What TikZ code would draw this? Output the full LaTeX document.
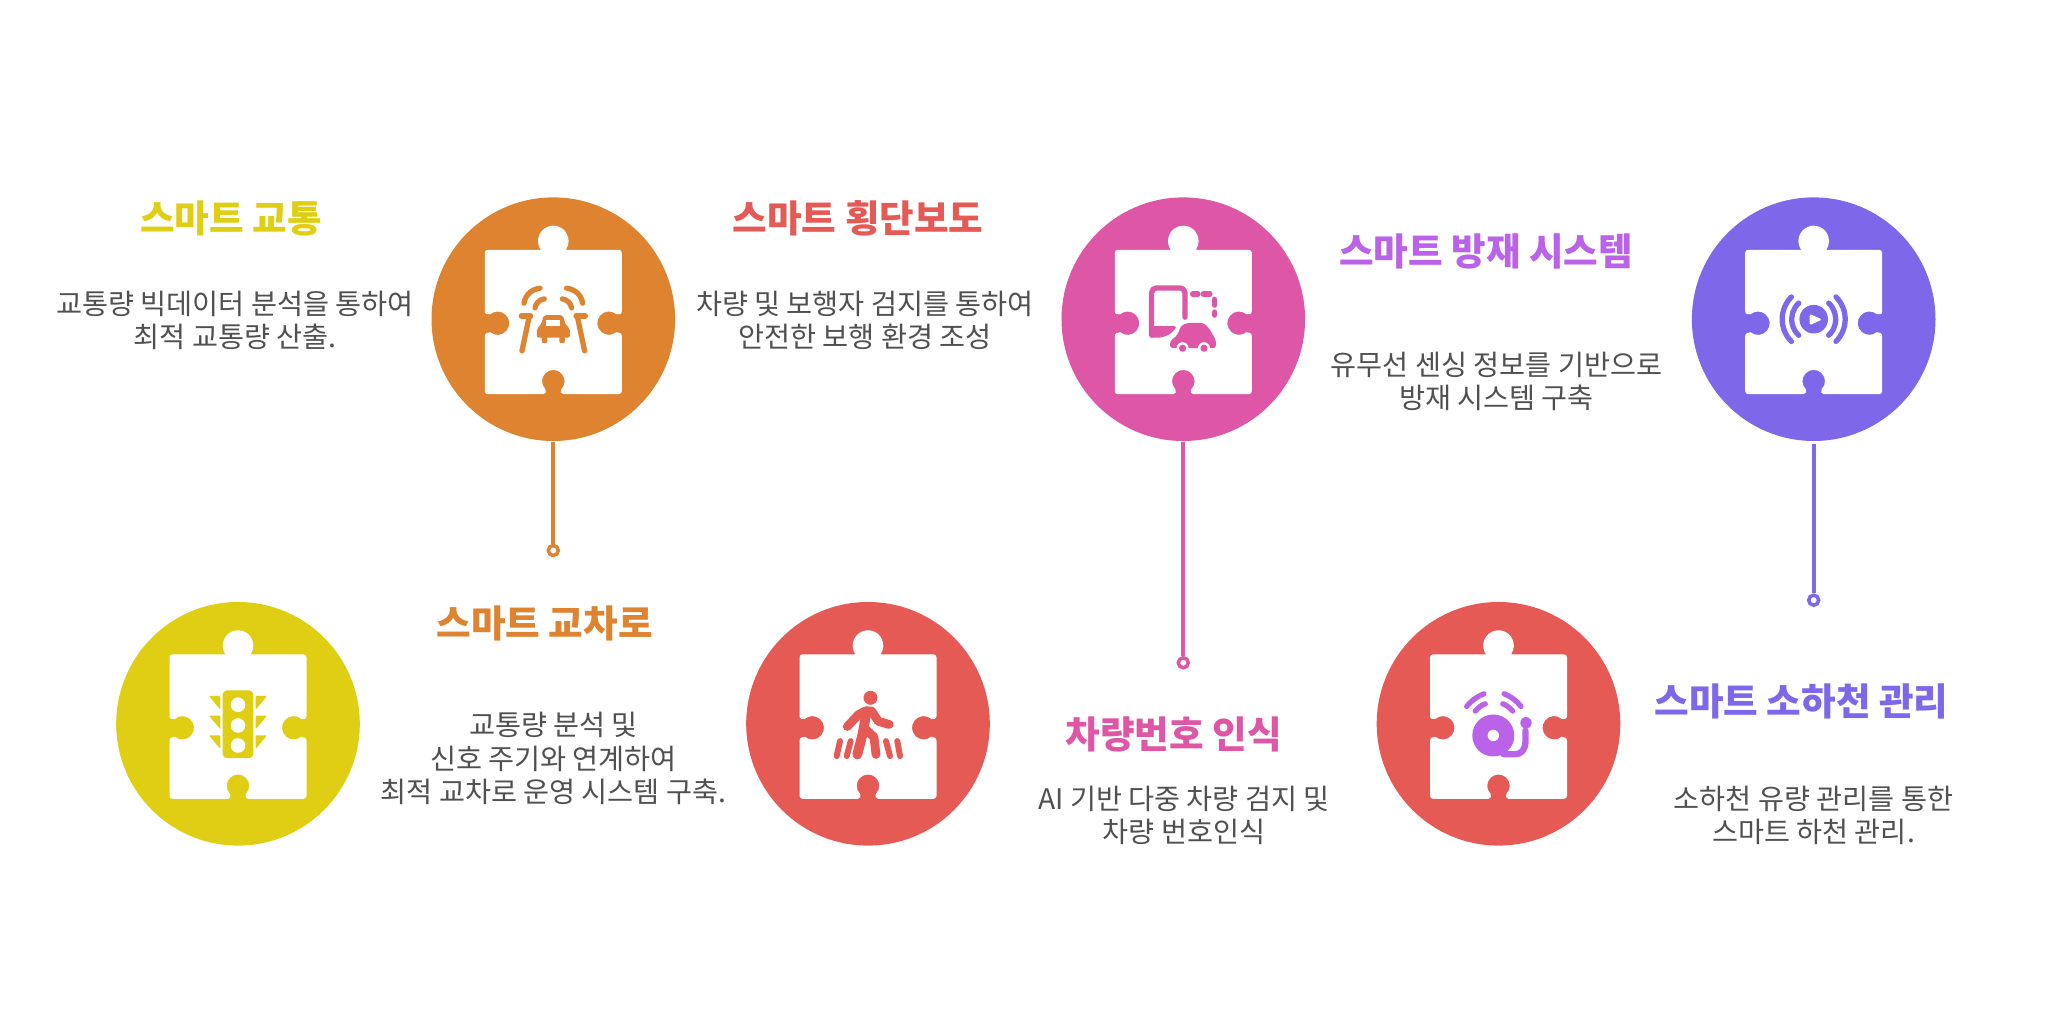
\documentclass[tikz,border=0pt]{standalone}
\usepackage{fontspec}
\setmainfont{Noto Sans CJK KR}
\usetikzlibrary{positioning}
\definecolor{corange}{HTML}{DE8431}
\definecolor{cpink}{HTML}{DE57A6}
\definecolor{cviolet}{HTML}{7F67EA}
\definecolor{cyellow}{HTML}{E0CE15}
\definecolor{cred}{HTML}{E55A55}
\definecolor{cpurple}{HTML}{BA62E8}
\definecolor{ctext}{HTML}{505050}
\tikzset{
    mycirc/.style = {circle, minimum size=2.436cm, inner sep=0pt},
    mycirco/.style = {mycirc, fill=corange},
    mycircp/.style = {mycirc, fill=cpink},
    mycircv/.style = {mycirc, fill=cviolet},
    mycircy/.style = {mycirc, fill=cyellow},
    mycircr/.style = {mycirc, fill=cred},
    mydot/.style = {circle, minimum size=0.1cm, inner sep=0pt, line width=1pt, fill=white},
    edgew/.style = {-, line width=1.05pt},
    mytitle/.style = {font=\fontsize{10.7pt}{13pt}\selectfont\bfseries, inner sep=0pt},
    mybody/.style = {font=\fontsize{8.05pt}{9.45pt}\selectfont, text=ctext, align=center, inner sep=0pt},
    iconl/.style = {line width=1.5pt, line cap=round, line join=round},
    % white piece, centred on its circle
    puzzle/.pic = {
        \fill[white] (-0.655,0.694) -- (-0.125,0.694) arc[start angle=215,end angle=-35,radius=0.153]
            -- (0.655,0.694) arc[start angle=90,end angle=0,radius=0.03]
            -- (0.685,0.08) .. controls (0.685,0.045) and (0.655,0.045) .. (0.632,0.05)
            arc[start angle=50,end angle=310,radius=0.117]
            .. controls (0.655,-0.135) and (0.685,-0.135) .. (0.685,-0.17)
            -- (0.685,-0.72) arc[start angle=0,end angle=-90,radius=0.03]
            -- (0.10,-0.75) .. controls (0.075,-0.75) and (0.065,-0.72) .. (0.08,-0.70)
            arc[start angle=-45,end angle=225,radius=0.113]
            .. controls (-0.065,-0.72) and (-0.075,-0.75) .. (-0.10,-0.75)
            -- (-0.655,-0.75) arc[start angle=270,end angle=180,radius=0.03]
            -- (-0.685,-0.17) .. controls (-0.685,-0.135) and (-0.655,-0.135) .. (-0.632,-0.13)
            arc[start angle=230,end angle=490,radius=0.117]
            .. controls (-0.655,0.045) and (-0.685,0.045) .. (-0.685,0.08)
            -- (-0.685,0.664) arc[start angle=180,end angle=90,radius=0.03] -- cycle;
    },
    roadicon/.pic = {
        \draw[iconl] (-0.293,0.16) .. controls (-0.28,0.25) and (-0.21,0.30) .. (-0.133,0.31);
        \draw[iconl] (-0.183,0.113) .. controls (-0.175,0.16) and (-0.14,0.195) .. (-0.09,0.203);
        \draw[iconl] (0.293,0.16) .. controls (0.28,0.25) and (0.21,0.30) .. (0.133,0.31);
        \draw[iconl] (0.183,0.113) .. controls (0.175,0.16) and (0.14,0.195) .. (0.09,0.203);
        \draw[iconl] (-0.32,0.033) -- (-0.227,0.033);
        \draw[iconl] (-0.24,0.03) -- (-0.313,-0.317);
        \draw[iconl] (0.32,0.033) -- (0.227,0.033);
        \draw[iconl] (0.24,0.03) -- (0.313,-0.317);
        \fill[rounded corners=0.2mm] (-0.165,-0.185) -- (-0.165,-0.09) -- (-0.125,-0.06) -- (-0.095,0.04) -- (0.095,0.04)
            -- (0.125,-0.06) -- (0.165,-0.09) -- (0.165,-0.185) -- cycle;
        \fill[rounded corners=0.2mm] (-0.115,-0.17) rectangle (-0.06,-0.24);
        \fill[rounded corners=0.2mm] (0.06,-0.17) rectangle (0.115,-0.24);
        \fill[white] (-0.07,-0.013) rectangle (0.07,-0.07);
    },
    phoneicon/.pic = {
        \draw[iconl, rounded corners=0.5mm] (0.017,0.02) -- (0.017,0.313) -- (-0.317,0.313) -- (-0.317,-0.16);
        \fill[rounded corners=0.3mm] (-0.335,-0.07) -- (-0.06,-0.07) -- (-0.13,-0.15) -- (-0.22,-0.185) -- (-0.335,-0.185) -- cycle;
        \draw[iconl] (0.093,0.253) -- (0.147,0.253);
        \draw[iconl] (0.2,0.253) -- (0.267,0.253);
        \draw[iconl] (0.313,0.2) -- (0.313,0.14);
        \draw[iconl] (0.313,0.073) -- (0.313,0.04);
        \fill[rounded corners=0.3mm] (-0.133,-0.29) -- (-0.133,-0.22) -- (-0.06,-0.16) -- (-0.02,-0.06) -- (0.05,-0.037)
            -- (0.2,-0.037) -- (0.25,-0.08) -- (0.327,-0.21) -- (0.327,-0.29) -- cycle;
        \foreach \wx in {-0.007,0.207} {
            \fill[white] (\wx,-0.29) circle (0.06);
            \fill (\wx,-0.29) circle (0.036);
        }
    },
    playicon/.pic = {
        \fill (0,0) circle (0.143);
        \fill[white, rounded corners=0.2mm] (-0.04,0.053) -- (-0.04,-0.06) -- (0.083,-0.003) -- cycle;
        \draw[iconl] (133:0.22) arc[start angle=133,end angle=227,radius=0.22];
        \draw[iconl] (135:0.315) arc[start angle=135,end angle=225,radius=0.315];
        \draw[iconl] (47:0.22) arc[start angle=47,end angle=-47,radius=0.22];
        \draw[iconl] (45:0.315) arc[start angle=45,end angle=-45,radius=0.315];
    },
    lighticon/.pic = {
        \fill[rounded corners=0.4mm] (-0.153,0.333) rectangle (0.153,-0.343);
        \foreach \ly in {0.19,-0.017,-0.217} {\fill[white] (0,\ly) circle (0.073);}
        \foreach \ty in {0,-0.197,-0.393} {
            \fill[rounded corners=0.1mm] (-0.29,0.278+\ty) -- (-0.177,0.278+\ty) -- (-0.177,0.142+\ty) -- cycle;
            \fill[rounded corners=0.1mm] (0.29,0.278+\ty) -- (0.177,0.278+\ty) -- (0.177,0.142+\ty) -- cycle;
        }
    },
    walkicon/.pic = {
        \fill (0.025,0.26) circle (0.07);
        \draw[iconl, line width=2.5pt] (-0.207,-0.027) -- (-0.097,0.09) -- (-0.03,0.127) -- (0.037,0.127) -- (0.103,0.025) -- (0.213,-0.007);
        \draw[iconl, line width=2.8pt] (-0.013,0.127) -- (-0.053,-0.1) -- (-0.107,-0.307);
        \draw[iconl, line width=2.5pt] (-0.03,-0.05) -- (0.06,-0.133) -- (0.08,-0.307);
        \draw[iconl, line width=1.7pt] (-0.28,-0.173) -- (-0.313,-0.323);
        \draw[iconl, line width=1.7pt] (-0.173,-0.173) -- (-0.213,-0.323);
        \draw[iconl, line width=1.7pt] (0.18,-0.173) -- (0.22,-0.323);
        \draw[iconl, line width=1.7pt] (0.293,-0.173) -- (0.32,-0.323);
    },
    bellicon/.pic = {
        \fill (-0.052,-0.117) circle (0.21);
        \fill[white] (-0.052,-0.117) circle (0.057);
        \draw[iconl, line width=1.8pt] (0.05,-0.305) -- (0.16,-0.305) .. controls (0.23,-0.305) and (0.27,-0.26) .. (0.27,-0.17) -- (0.27,-0.07);
        \fill (0.275,0.01) circle (0.057);
        \draw[iconl] (-0.318,0.173) .. controls (-0.27,0.235) and (-0.2,0.28) .. (-0.145,0.30);
        \draw[iconl] (-0.232,0.127) .. controls (-0.2,0.165) and (-0.17,0.185) .. (-0.132,0.2);
        \draw[iconl] (0.055,0.30) .. controls (0.11,0.28) and (0.18,0.235) .. (0.225,0.173);
        \draw[iconl] (0.042,0.2) .. controls (0.08,0.185) and (0.11,0.165) .. (0.142,0.127);
    }
}
\begin{document}
\begin{tikzpicture}
\useasboundingbox (0,0) rectangle (20.48,10.13);

\node[mycirco] at ( 5.533, 6.938) (c1) {};
\node[mycircp] at (11.833, 6.938) (c2) {};
\node[mycircv] at (18.137, 6.938) (c3) {};
\node[mycircy] at ( 2.380, 2.892) (c4) {};
\node[mycircr] at ( 8.680, 2.892) (c5) {};
\node[mycircr] at (14.985, 2.892) (c6) {};

\foreach \c in {c1,c2,c3,c4,c5,c6} {\pic at (\c) {puzzle};}

\pic[color=corange] at (c1) {roadicon};
\pic[color=cpink] at (c2) {phoneicon};
\pic[color=cviolet] at (c3) {playicon};
\pic[color=cyellow] at (c4) {lighticon};
\pic[color=cred] at (c5) {walkicon};
\pic[color=cpurple] at (c6) {bellicon};

\node[mydot, draw=corange] at ( 5.533, 4.625) (d1) {};
\node[mydot, draw=cpink] at (11.833, 3.502) (d2) {};
\node[mydot, draw=cviolet] at (18.137, 4.128) (d3) {};

\draw[edgew, corange] (c1) -- (d1);
\draw[edgew, cpink] (c2) -- (d2);
\draw[edgew, cviolet, shorten <=0.02cm] (c3) -- (d3);

\node[mytitle, text=cyellow] at ( 2.310, 7.950) (t1) {스마트 교통};
\node[mytitle, text=cred] at ( 8.580, 7.950) (t2) {스마트 횡단보도};
\node[mytitle, text=cpurple] at (14.860, 7.612) (t3) {스마트 방재 시스템};
\node[mytitle, text=corange] at ( 5.445, 3.900) (t4) {스마트 교차로};
\node[mytitle, text=cpink] at (11.735, 2.790) (t5) {차량번호 인식};
\node[mytitle, text=cviolet] at (18.015, 3.120) (t6) {스마트 소하천 관리};

\node[mybody] at ( 2.350, 6.925) (b1) {교통량 빅데이터 분석을 통하여\\최적 교통량 산출.};
\node[mybody] at ( 8.650, 6.925) (b2) {차량 및 보행자 검지를 통하여\\안전한 보행 환경 조성};
\node[mybody] at (14.965, 6.318) (b3) {유무선 센싱 정보를 기반으로\\방재 시스템 구축};
\node[mybody] at ( 5.535, 2.545) (b4) {교통량 분석 및\\신호 주기와 연계하여\\최적 교차로 운영 시스템 구축.};
\node[mybody] at (11.840, 1.973) (b5) {AI 기반 다중 차량 검지 및\\차량 번호인식};
\node[mybody] at (18.135, 1.978) (b6) {소하천 유량 관리를 통한\\스마트 하천 관리.};

\end{tikzpicture}
\end{document}
